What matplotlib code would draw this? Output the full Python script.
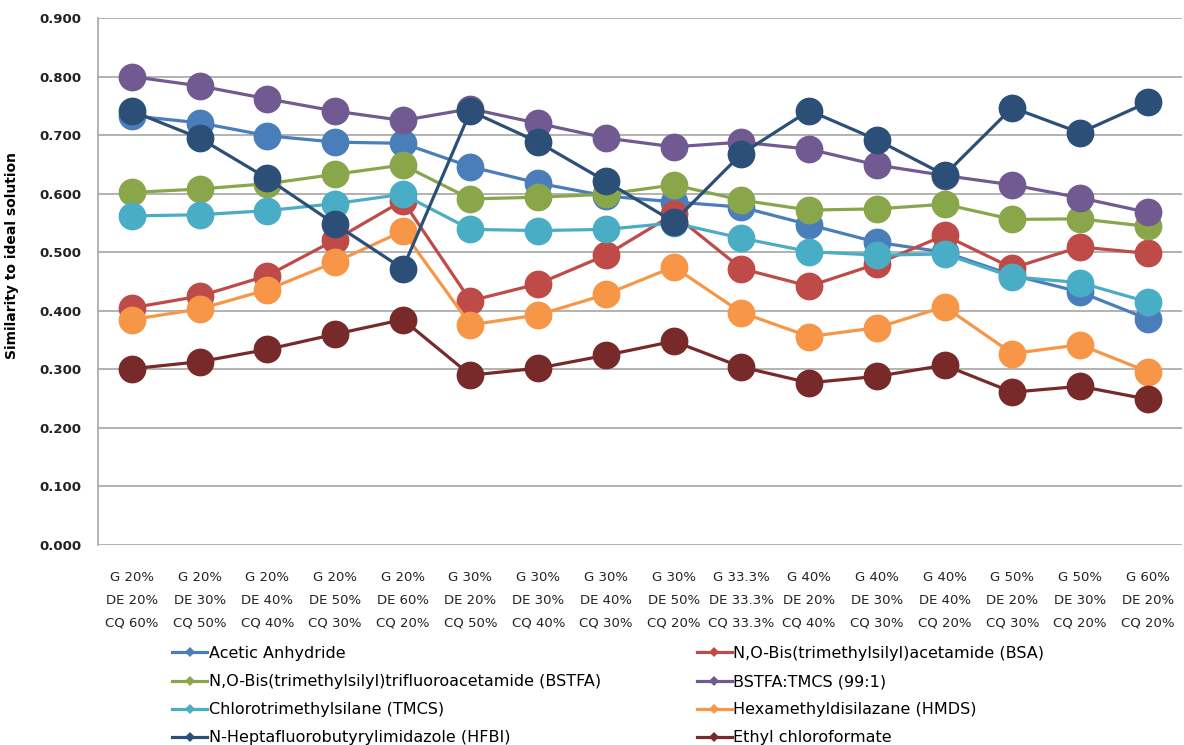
import matplotlib
matplotlib.use("Agg")
import matplotlib.pyplot as plt
from matplotlib.lines import Line2D

categories = [
    "G 20%\nDE 20%\nCQ 60%", "G 20%\nDE 30%\nCQ 50%", "G 20%\nDE 40%\nCQ 40%",
    "G 20%\nDE 50%\nCQ 30%", "G 20%\nDE 60%\nCQ 20%", "G 30%\nDE 20%\nCQ 50%",
    "G 30%\nDE 30%\nCQ 40%", "G 30%\nDE 40%\nCQ 30%", "G 30%\nDE 50%\nCQ 20%",
    "G 33.3%\nDE 33.3%\nCQ 33.3%", "G 40%\nDE 20%\nCQ 40%", "G 40%\nDE 30%\nCQ 30%",
    "G 40%\nDE 40%\nCQ 20%", "G 50%\nDE 20%\nCQ 30%", "G 50%\nDE 30%\nCQ 20%",
    "G 60%\nDE 20%\nCQ 20%",
]

acetic_anhydride = [0.733, 0.721, 0.699, 0.688, 0.686, 0.646, 0.618, 0.596, 0.586, 0.577,
                    0.547, 0.517, 0.500, 0.461, 0.432, 0.386]
bsa = [0.405, 0.425, 0.460, 0.521, 0.588, 0.417, 0.446, 0.495, 0.565, 0.472,
       0.442, 0.480, 0.529, 0.473, 0.509, 0.498]
bstfa = [0.602, 0.608, 0.617, 0.633, 0.649, 0.591, 0.594, 0.599, 0.615, 0.589,
         0.572, 0.574, 0.582, 0.556, 0.557, 0.544]
bstfa_tmcs = [0.800, 0.784, 0.762, 0.741, 0.725, 0.745, 0.720, 0.695, 0.680, 0.688,
              0.676, 0.649, 0.631, 0.615, 0.593, 0.568]
tmcs = [0.562, 0.564, 0.571, 0.583, 0.599, 0.539, 0.537, 0.539, 0.550, 0.524,
        0.501, 0.495, 0.497, 0.458, 0.448, 0.415]
hmds = [0.385, 0.403, 0.436, 0.483, 0.536, 0.376, 0.393, 0.428, 0.475, 0.397,
        0.356, 0.371, 0.407, 0.327, 0.342, 0.296]
hfbi = [0.741, 0.695, 0.626, 0.548, 0.472, 0.741, 0.688, 0.621, 0.552, 0.668,
        0.742, 0.692, 0.632, 0.747, 0.704, 0.756]
ethyl_chloroformate = [0.301, 0.313, 0.334, 0.360, 0.385, 0.290, 0.302, 0.324, 0.348, 0.304,
                       0.277, 0.288, 0.307, 0.261, 0.271, 0.249]

series_names = [
    "Acetic Anhydride",
    "N,O-Bis(trimethylsilyl)acetamide (BSA)",
    "N,O-Bis(trimethylsilyl)trifluoroacetamide (BSTFA)",
    "BSTFA:TMCS (99:1)",
    "Chlorotrimethylsilane (TMCS)",
    "Hexamethyldisilazane (HMDS)",
    "N-Heptafluorobutyrylimidazole (HFBI)",
    "Ethyl chloroformate",
]
series_values = [acetic_anhydride, bsa, bstfa, bstfa_tmcs, tmcs, hmds, hfbi, ethyl_chloroformate]
colors = ["#4A7EBB", "#BE4B48", "#8AA64B", "#715A91", "#4AADC6", "#F79646", "#2C4F78", "#772A29"]

fig = plt.figure(figsize=(11.84, 7.45), dpi=100)
ax = fig.add_axes([98/1184, 1-545/745, 1-98/1184 - 0.002, (545-18)/745])

x = list(range(len(categories)))
handles = []
for name, vals, c in zip(series_names, series_values, colors):
    ax.plot(x, vals, color=c, lw=2.3, marker="o", markersize=20, markeredgewidth=0,
            solid_joinstyle="round")
    handles.append(Line2D([], [], color=c, lw=2.3, marker="D", markersize=5, markeredgewidth=0))

ax.set_xlim(-0.5, len(categories) - 0.5)
ax.set_ylim(0, 0.9)
ax.set_yticks([i / 10 for i in range(10)])
ax.set_yticklabels([f"{i/10:.3f}" for i in range(10)], fontsize=9.5, fontweight="bold", color="#222222")
ax.set_xticks(x)
ax.set_xticklabels(categories, fontsize=9.5, linespacing=1.95, color="#222222")
ax.tick_params(axis="x", length=0, pad=19)
ax.tick_params(axis="y", length=0, pad=12)
ax.grid(axis="y", color="#A6A6A6", lw=1.2)
ax.set_axisbelow(True)
for s in ["top", "right", "bottom"]:
    ax.spines[s].set_visible(False)
ax.spines["left"].set_color("#A6A6A6")
ax.spines["left"].set_linewidth(1.2)
ax.set_ylabel("Similarity to ideal solution", fontsize=10, fontweight="bold")
ax.yaxis.set_label_coords(-0.073, 0.55)

order = [0, 2, 4, 6, 1, 3, 5, 7]
fig.legend([handles[i] for i in order], [series_names[i] for i in order],
           loc="upper left", bbox_to_anchor=(172/1184, 1-646/745), ncol=2, frameon=False,
           prop={"size": 11.5},
           handlelength=2.2, handletextpad=0.1, labelspacing=0.82, columnspacing=6.0,
           borderaxespad=0, borderpad=0)

fig.savefig("out.png", dpi=100)
